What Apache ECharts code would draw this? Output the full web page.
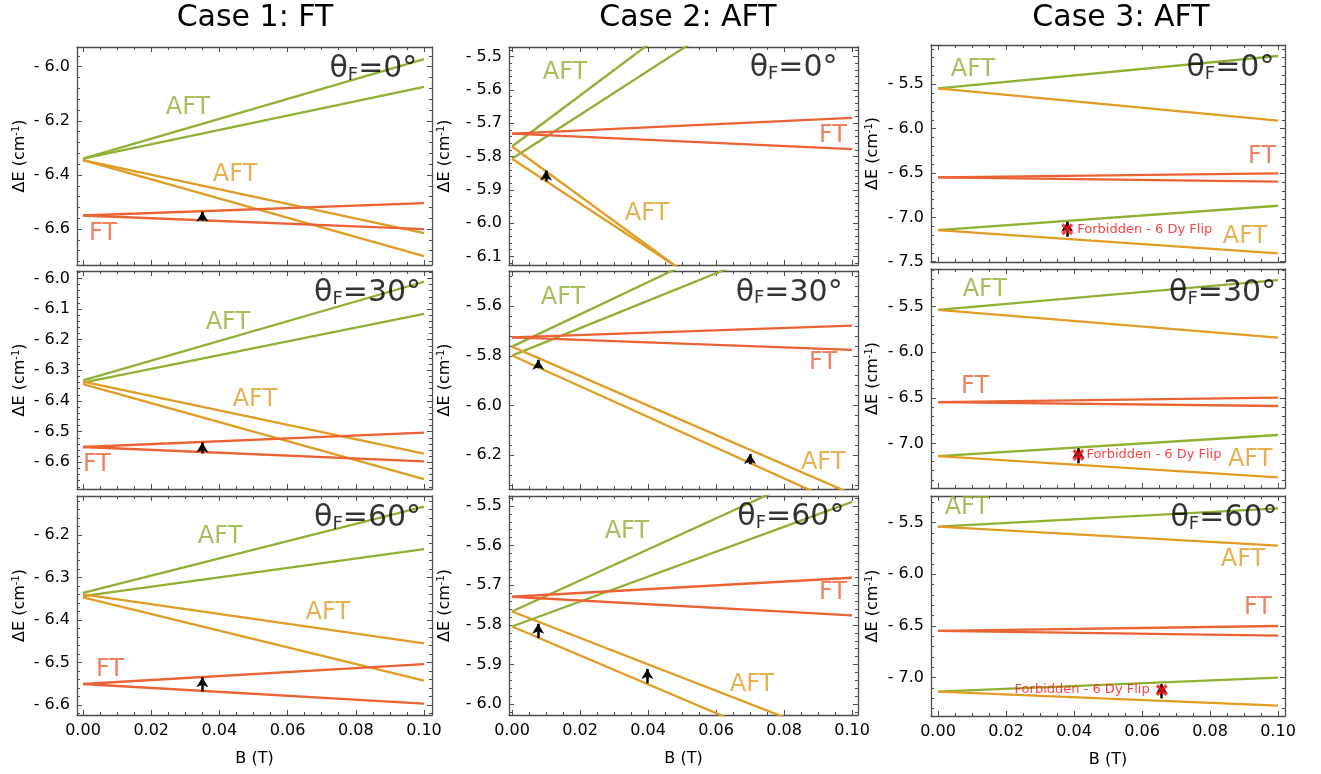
<!DOCTYPE html>
<html><head><meta charset="utf-8">
<script src="https://cdn.jsdelivr.net/npm/echarts@6/dist/echarts.min.js"></script>
<style>html,body{margin:0;padding:0;background:#fff}#chart{width:1321px;height:774px}</style>
</head><body><div id="chart"></div>
<script>
// ---------------- DATA ----------------
const caseTitles = ['Case 1: FT', 'Case 2: AFT', 'Case 3: AFT'];
const angleLabels = ['0°', '30°', '60°'];
const bEnds = [0, 0.1];
const xTicks = [0, 0.02, 0.04, 0.06, 0.08, 0.10];

// energy levels: [colour key, ΔE at B=0, ΔE at B=0.1]
const levels_c1_0  = [['g',-6.340,-5.972],['g',-6.340,-6.074],['o',-6.345,-6.615],['o',-6.345,-6.700],['r',-6.550,-6.504],['r',-6.550,-6.600]];
const levels_c1_30 = [['g',-6.333,-6.011],['g',-6.340,-6.116],['o',-6.337,-6.572],['o',-6.345,-6.655],['r',-6.550,-6.503],['r',-6.550,-6.597]];
const levels_c1_60 = [['g',-6.336,-6.133],['g',-6.344,-6.233],['o',-6.340,-6.455],['o',-6.347,-6.543],['r',-6.551,-6.504],['r',-6.551,-6.597]];
const levels_c2_0  = [['g',-5.770,-5.005],['g',-5.807,-5.147],['o',-5.770,-6.516],['o',-5.807,-6.477],['r',-5.731,-5.684],['r',-5.731,-5.778]];
const levels_c2_30 = [['g',-5.763,-5.113],['g',-5.799,-5.246],['o',-5.763,-6.357],['o',-5.799,-6.418],['r',-5.726,-5.678],['r',-5.726,-5.776]];
const levels_c2_60 = [['g',-5.766,-5.375],['g',-5.804,-5.490],['o',-5.766,-6.099],['o',-5.804,-6.168],['r',-5.729,-5.681],['r',-5.729,-5.776]];
const levels_c3_0  = [['g',-5.545,-5.181],['o',-5.545,-5.910],['r',-6.550,-6.503],['r',-6.550,-6.598],['g',-7.143,-6.869],['o',-7.143,-7.405]];
const levels_c3_30 = [['g',-5.535,-5.207],['o',-5.535,-5.840],['r',-6.548,-6.499],['r',-6.548,-6.590],['g',-7.139,-6.908],['o',-7.139,-7.373]];
const levels_c3_60 = [['g',-5.539,-5.361],['o',-5.539,-5.722],['r',-6.548,-6.500],['r',-6.548,-6.594],['g',-7.135,-7.000],['o',-7.135,-7.271]];

// transition arrows: [B, ΔE tail, ΔE head]
const arrows_c1_0  = [[0.035,-6.570,-6.536]];
const arrows_c1_30 = [[0.035,-6.571,-6.535]];
const arrows_c1_60 = [[0.035,-6.569,-6.535]];
const arrows_c2_0  = [[0.010,-5.875,-5.842]];
const arrows_c2_30 = [[0.0077,-5.850,-5.816],[0.070,-6.237,-6.196]];
const arrows_c2_60 = [[0.0077,-5.833,-5.797],[0.0398,-5.947,-5.911]];
const arrows_c3_0  = [[0.038,-7.218,-7.050]];
const arrows_c3_30 = [[0.0413,-7.219,-7.055]];
const arrows_c3_60 = [[0.0658,-7.200,-7.062]];

// curve labels: [text, colour key, B, ΔE]
const labels_c1_0  = [['AFT','g',0.0308,-6.153],['AFT','o',0.0446,-6.401],['FT','r',0.0059,-6.618]];
const labels_c1_30 = [['AFT','g',0.0425,-6.146],['AFT','o',0.0504,-6.396],['FT','r',0.0041,-6.608]];
const labels_c1_60 = [['AFT','g',0.0402,-6.204],['AFT','o',0.0718,-6.384],['FT','r',0.0079,-6.518]];
const labels_c2_0  = [['AFT','g',0.0156,-5.549],['AFT','o',0.0397,-5.972],['FT','r',0.0944,-5.737]];
const labels_c2_30 = [['AFT','g',0.0150,-5.565],['FT','r',0.0915,-5.829],['AFT','o',0.0915,-6.231]];
const labels_c2_60 = [['AFT','g',0.0338,-5.564],['FT','r',0.0944,-5.718],['AFT','o',0.0706,-5.952]];
const labels_c3_0  = [['AFT','g',0.0103,-5.339],['FT','r',0.0953,-6.320],['AFT','o',0.0903,-7.222]];
const labels_c3_30 = [['AFT','g',0.0138,-5.317],['FT','r',0.0109,-6.381],['AFT','o',0.0918,-7.183]];
const labels_c3_60 = [['AFT','g',0.0085,-5.358],['AFT','o',0.0897,-5.861],['FT','r',0.0941,-6.326]];

// θF label anchor (right edge): [B, ΔE]
const theta_pos = [[0.0982,-6.0085],[0.0959,-5.535],[0.0991,-5.320],
                   [0.0993,-6.049],[0.0974,-5.546],[0.0996,-5.353],
                   [0.0993,-6.161],[0.0979,-5.529],[0.1000,-5.457]];

// forbidden transitions (case 3): [B of marker, ΔE, B of text, text side]
const forbidden_c3_0  = [0.0380,-7.135,0.0408,'right'];
const forbidden_c3_30 = [0.0413,-7.128,0.0435,'right'];
const forbidden_c3_60 = [0.0658,-7.120,0.0624,'left'];
const forbiddenText = 'Forbidden - 6 Dy Flip';

// axis ranges and ticks
const xRange = [[-0.00176,0.10235],[-0.00088,0.10176],[-0.00206,0.10206]];
const yRange_c1 = [[-6.733,-5.927],[-6.687,-5.976],[-6.624,-6.108]];
const yRange_c2 = [[-6.126,-5.471],[-6.337,-5.458],[-6.027,-5.475]];
const yRange_c3 = [[-7.503,-5.057],[-7.490,-5.086],[-7.371,-5.242]];
const yTicks_c1 = [[-6.6,-6.4,-6.2,-6.0],[-6.6,-6.5,-6.4,-6.3,-6.2,-6.1,-6.0],[-6.6,-6.5,-6.4,-6.3,-6.2]];
const yTicks_c2 = [[-6.1,-6.0,-5.9,-5.8,-5.7,-5.6,-5.5],[-6.2,-6.0,-5.8,-5.6],[-6.0,-5.9,-5.8,-5.7,-5.6,-5.5]];
const yTicks_c3 = [[-7.5,-7.0,-6.5,-6.0,-5.5],[-7.0,-6.5,-6.0,-5.5],[-7.0,-6.5,-6.0,-5.5]];
const yMinorStep_c1 = [0.04,0.02,0.02];
const yMinorStep_c2 = [0.02,0.04,0.02];
const yMinorStep_c3 = [0.1,0.1,0.1];
const xMinorStep = 0.005;

// ---------------- STYLE / LAYOUT ----------------
const FONT = 'DejaVu Sans';
const COL = {g:'#8FB032', o:'#E19C24', r:'#EB6235'};
const FRAME = '#4d4d4d';
const colX = [[77,432],[509,858],[931,1285]];
const rowY = [[47,265],[271,489],[496,715]];
const rowY3 = [[45,262],[269,488],[496,716]];
const titleX = [255,688,1121];
const yNameGap = [48,55,49];

const levelsAll = [[levels_c1_0,levels_c1_30,levels_c1_60],[levels_c2_0,levels_c2_30,levels_c2_60],[levels_c3_0,levels_c3_30,levels_c3_60]];
const arrowsAll = [[arrows_c1_0,arrows_c1_30,arrows_c1_60],[arrows_c2_0,arrows_c2_30,arrows_c2_60],[arrows_c3_0,arrows_c3_30,arrows_c3_60]];
const labelsAll = [[labels_c1_0,labels_c1_30,labels_c1_60],[labels_c2_0,labels_c2_30,labels_c2_60],[labels_c3_0,labels_c3_30,labels_c3_60]];
const yRangeAll = [yRange_c1,yRange_c2,yRange_c3];
const yTicksAll = [yTicks_c1,yTicks_c2,yTicks_c3];
const yMinorAll = [yMinorStep_c1,yMinorStep_c2,yMinorStep_c3];
const forbiddenAll = [null,null,[forbidden_c3_0,forbidden_c3_30,forbidden_c3_60]];

function minorValues(min, max, step) {
  const out = [];
  const k0 = Math.ceil(min / step - 1e-9), k1 = Math.floor(max / step + 1e-9);
  for (let k = k0; k <= k1; k++) out.push(+(k * step).toFixed(5));
  return out;
}

const grid = [], xAxis = [], yAxis = [], series = [], graphic = [];
const lineStyleFrame = {color: FRAME, width: 1.3};
const tickStyle = {color: FRAME, width: 1};

for (let col = 0; col < 3; col++) {
  graphic.push({type:'text', x: titleX[col], y: 18, style:{text: caseTitles[col], font: '30px "' + FONT + '"', fill:'#000', textAlign:'center', textVerticalAlign:'middle'}});
  for (let row = 0; row < 3; row++) {
    const gi = grid.length;
    const [x0, x1] = colX[col];
    const [y0, y1] = (col === 2 ? rowY3 : rowY)[row];
    grid.push({left: x0, top: y0, width: x1 - x0, height: y1 - y0});
    const xr = xRange[col], yr = yRangeAll[col][row], yt = yTicksAll[col][row];
    const bottom = row === 2;
    const xMinor = minorValues(xr[0], xr[1], xMinorStep);
    const yMinor = minorValues(yr[0], yr[1], yMinorAll[col][row]);
    const xi = xAxis.length, yi = yAxis.length;
    const baseX = {gridIndex: gi, type:'value', min: xr[0], max: xr[1], splitLine:{show:false}};
    const baseY = {gridIndex: gi, type:'value', min: yr[0], max: yr[1], splitLine:{show:false}};
    xAxis.push(Object.assign({}, baseX, {position:'bottom',
      axisLine:{show:true, onZero:false, lineStyle: lineStyleFrame},
      axisTick:{show:true, inside:true, length:5, customValues: xTicks, lineStyle: tickStyle},
      axisLabel: bottom ? {show:true, customValues: xTicks, formatter: v => v.toFixed(2), fontSize:16, color:'#000', fontFamily: FONT, margin:8} : {show:false},
      name: bottom ? 'B (T)' : '', nameLocation:'middle', nameGap:36,
      nameTextStyle:{fontSize:16, color:'#000', fontFamily: FONT}}));
    xAxis.push(Object.assign({}, baseX, {position:'bottom', axisLine:{show:false, onZero:false},
      axisTick:{show:true, inside:true, length:3, customValues: xMinor, lineStyle: tickStyle}, axisLabel:{show:false}}));
    xAxis.push(Object.assign({}, baseX, {position:'top', axisLine:{show:true, onZero:false, lineStyle: lineStyleFrame},
      axisTick:{show:true, inside:true, length:5, customValues: xTicks, lineStyle: tickStyle}, axisLabel:{show:false}}));
    xAxis.push(Object.assign({}, baseX, {position:'top', axisLine:{show:false, onZero:false},
      axisTick:{show:true, inside:true, length:3, customValues: xMinor, lineStyle: tickStyle}, axisLabel:{show:false}}));
    yAxis.push(Object.assign({}, baseY, {position:'left',
      axisLine:{show:true, onZero:false, lineStyle: lineStyleFrame},
      axisTick:{show:true, inside:true, length:5, customValues: yt, lineStyle: tickStyle},
      axisLabel:{show:true, customValues: yt, formatter: v => '- ' + Math.abs(v).toFixed(1), fontSize:16, color:'#000', fontFamily: FONT, margin:7},
      name:'{n|ΔE (cm}{s|-1}{n|)}', nameLocation:'middle', nameRotate:90, nameGap: yNameGap[col],
      nameTextStyle:{fontSize:16, color:'#000', fontFamily: FONT, rich:{
        n:{fontSize:16, fontFamily: FONT, color:'#000', lineHeight:18},
        s:{fontSize:10, fontFamily: FONT, color:'#000', verticalAlign:'top', lineHeight:10}}}}));
    yAxis.push(Object.assign({}, baseY, {position:'left', axisLine:{show:false, onZero:false},
      axisTick:{show:true, inside:true, length:3, customValues: yMinor, lineStyle: tickStyle}, axisLabel:{show:false}}));
    yAxis.push(Object.assign({}, baseY, {position:'right', axisLine:{show:true, onZero:false, lineStyle: lineStyleFrame},
      axisTick:{show:true, inside:true, length:5, customValues: yt, lineStyle: tickStyle}, axisLabel:{show:false}}));
    yAxis.push(Object.assign({}, baseY, {position:'right', axisLine:{show:false, onZero:false},
      axisTick:{show:true, inside:true, length:3, customValues: yMinor, lineStyle: tickStyle}, axisLabel:{show:false}}));

    levelsAll[col][row].forEach(([c, e0, e1]) => {
      series.push({type:'line', xAxisIndex: xi, yAxisIndex: yi, data:[[bEnds[0], e0],[bEnds[1], e1]],
        symbol:'none', showSymbol:false, silent:true, animation:false, z:2, clip:true,
        lineStyle:{color: COL[c], width:2.3}});
    });
    series.push({type:'line', xAxisIndex: xi, yAxisIndex: yi, data:[], silent:true, animation:false,
      markLine:{silent:true, animation:false, symbol:['none','arrow'], symbolSize:[9,10],
        lineStyle:{color:'#000', width:2.5, type:'solid'}, label:{show:false}, emphasis:{disabled:true},
        data: arrowsAll[col][row].map(([b, v1, v2]) => [{coord:[b, v1]}, {coord:[b, v2]}])}, z:5});
    const lbData = labelsAll[col][row].map(([t, c, b, v]) => ({value:[b, v],
      label:{show:true, position:'inside', formatter: t, color: COL[c], fontSize:24, fontFamily: FONT, textBorderWidth:0}}));
    const tp = theta_pos[row * 3 + col];
    lbData.push({value: tp, label:{show:true, position:'left', distance:0, color:'#000', textBorderWidth:0,
      formatter: '{t|θ}{s|F}{t|=' + angleLabels[row] + '}',
      rich:{t:{fontSize:30, fontFamily: FONT, color:'#000', lineHeight:30, textBorderWidth:0},
            s:{fontSize:18, fontFamily: FONT, color:'#000', lineHeight:16, verticalAlign:'bottom', textBorderWidth:0}}}});
    series.push({type:'scatter', xAxisIndex: xi, yAxisIndex: yi, data: lbData, symbolSize:1,
      itemStyle:{color:'rgba(0,0,0,0)'}, silent:true, animation:false, z:6});
    const fb = forbiddenAll[col] && forbiddenAll[col][row];
    if (fb) {
      series.push({type:'scatter', xAxisIndex: xi, yAxisIndex: yi, silent:true, animation:false, z:8,
        symbol:'path://M2,0 L5,3 L8,0 L10,2 L7,5 L10,8 L8,10 L5,7 L2,10 L0,8 L3,5 L0,2 Z',
        symbolSize:12, itemStyle:{color:'#ff1010'}, data:[[fb[0], fb[1]]]});
      series.push({type:'scatter', xAxisIndex: xi, yAxisIndex: yi, silent:true, animation:false, z:8,
        symbolSize:1, itemStyle:{color:'rgba(0,0,0,0)'},
        data:[{value:[fb[2], fb[1]], label:{show:true, position: fb[3], distance:0, formatter: forbiddenText,
          color:'#ff1010', fontSize:13, fontFamily: FONT, textBorderWidth:0}}]});
    }
  }
}

const chart = echarts.init(document.getElementById('chart'), null, {renderer:'canvas'});
chart.setOption({animation:false, backgroundColor:'#fff', grid, xAxis, yAxis, series, graphic});
</script>
</body></html>
